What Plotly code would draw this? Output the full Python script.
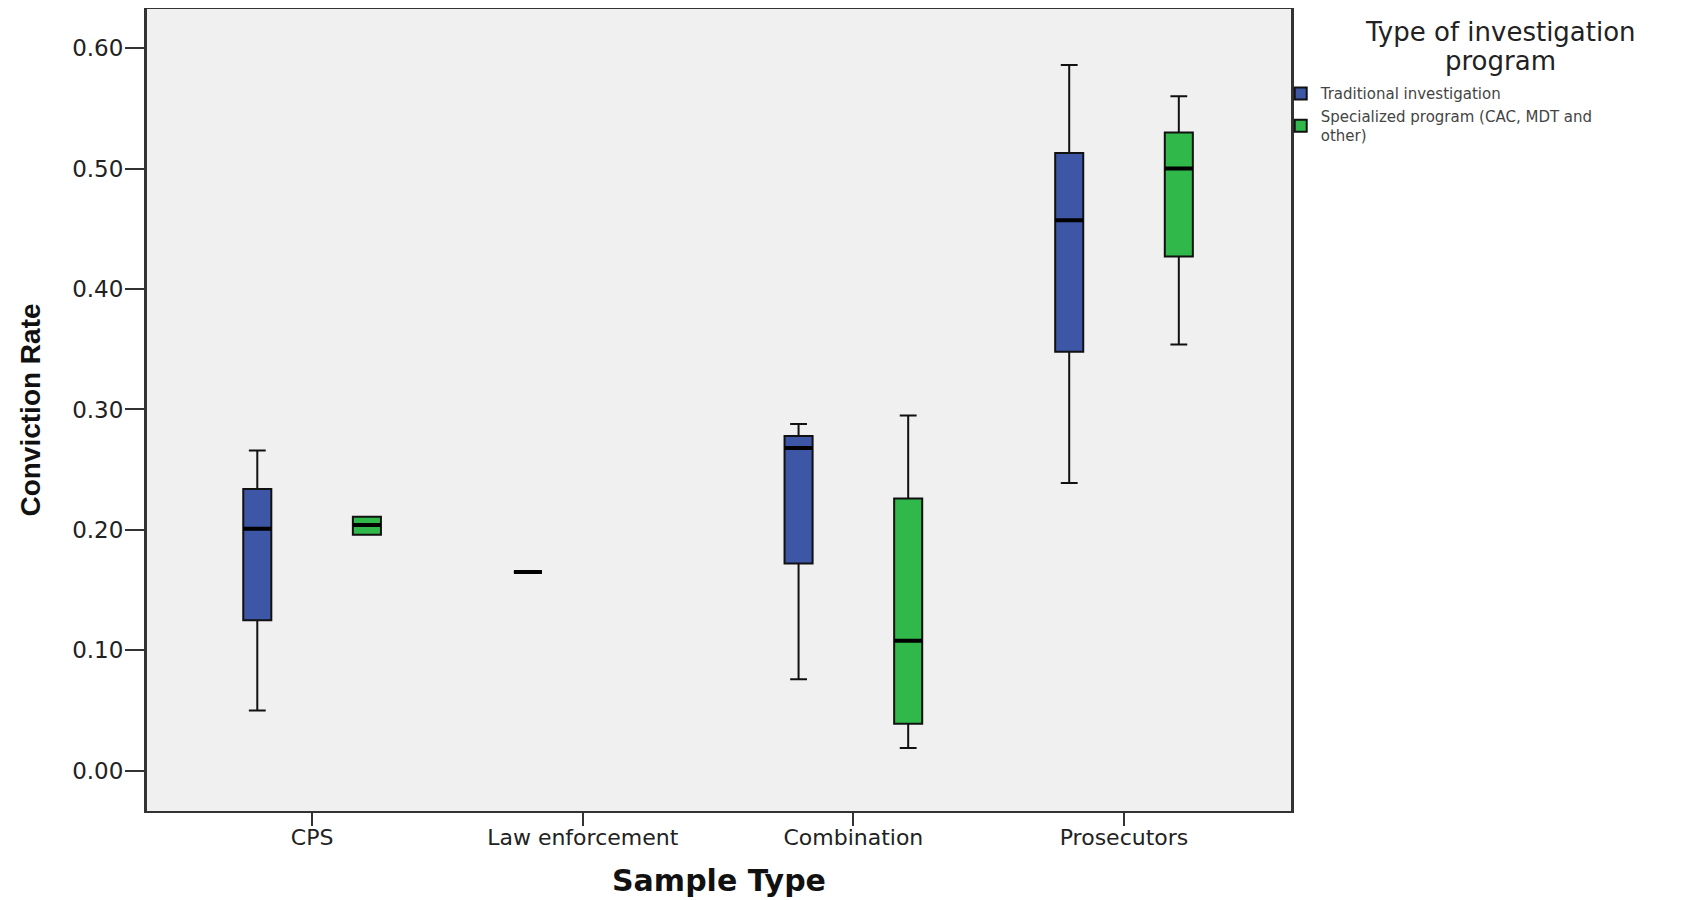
import plotly.graph_objects as go

categories = ["CPS", "Law enforcement", "Combination", "Prosecutors"]

trad_x = ["CPS", "Law enforcement", "Combination", "Prosecutors"]
trad_lower = [0.050, 0.165, 0.076, 0.239]
trad_q1 = [0.125, 0.165, 0.172, 0.348]
trad_median = [0.201, 0.165, 0.268, 0.457]
trad_q3 = [0.234, 0.165, 0.278, 0.513]
trad_upper = [0.266, 0.165, 0.288, 0.586]

spec_x = ["CPS", "Combination", "Prosecutors"]
spec_lower = [0.196, 0.019, 0.354]
spec_q1 = [0.196, 0.039, 0.427]
spec_median = [0.204, 0.108, 0.500]
spec_q3 = [0.211, 0.226, 0.530]
spec_upper = [0.211, 0.295, 0.560]

y_ticks = [0.0, 0.1, 0.2, 0.3, 0.4, 0.5, 0.6]

legend_title_lines = ["Type of investigation", "program"]

series = [
    dict(name="Traditional investigation", x=trad_x, lower=trad_lower, q1=trad_q1,
         med=trad_median, q3=trad_q3, upper=trad_upper, color="#3D56A6", grp="a"),
    dict(name="Specialized program (CAC, MDT and<br>other)", x=spec_x, lower=spec_lower,
         q1=spec_q1, med=spec_median, q3=spec_q3, upper=spec_upper, color="#30B84A", grp="b"),
]

fig = go.Figure()
for s in series:
    fig.add_trace(go.Box(
        name=s["name"], x=s["x"], lowerfence=s["lower"], q1=s["q1"], median=s["med"],
        q3=s["q3"], upperfence=s["upper"], fillcolor=s["color"],
        line=dict(color="#111111", width=2), whiskerwidth=0.6,
        offsetgroup=s["grp"], alignmentgroup="g", boxpoints=False,
    ))
for s in series:
    fig.add_trace(go.Box(
        name=s["name"], x=s["x"], lowerfence=s["med"], q1=s["med"], median=s["med"],
        q3=s["med"], upperfence=s["med"], fillcolor="rgba(0,0,0,0)",
        line=dict(color="#000000", width=4), whiskerwidth=0,
        offsetgroup=s["grp"], alignmentgroup="g", boxpoints=False,
        showlegend=False, hoverinfo="skip",
    ))

title_centers_y = [24, 53]  # figure px (centre of each title line)
annotations = [
    dict(text=line, xref="paper", yref="paper",
         x=(1500 - 147) / 1144, y=(803 - cy) / 802, xanchor="center", yanchor="middle",
         align="center", showarrow=False,
         font=dict(family="DejaVu Sans", size=26, color="#222222"))
    for line, cy in zip(legend_title_lines, title_centers_y)
]

fig.update_layout(
    width=1704, height=900,
    paper_bgcolor="white", plot_bgcolor="#F0F0F0",
    margin=dict(l=139, r=421, t=1, b=97, autoexpand=False),
    boxmode="group", boxgap=0.19, boxgroupgap=0.744,
    font=dict(family="DejaVu Sans", color="#222222"),
    legend=dict(
        x=0.991, xanchor="left", y=0.915, yanchor="top",
        font=dict(family="DejaVu Sans", size=15, color="#444444"),
        bgcolor="rgba(0,0,0,0)", tracegroupgap=0, itemwidth=30,
    ),
    annotations=annotations,
    xaxis=dict(
        type="category", categoryorder="array", categoryarray=categories,
        range=[-0.61, 3.617],
        showline=True, linecolor="#333333", linewidth=2, mirror=True,
        ticks="outside", ticklen=13, tickwidth=2, tickcolor="#333333",
        ticklabelstandoff=-7,
        tickfont=dict(family="DejaVu Sans", size=22, color="#222222"),
        showgrid=False, zeroline=False,
        title=dict(text="<b>Sample Type</b>", font=dict(family="DejaVu Sans", size=30, color="#111111"),
                   standoff=21),
    ),
    yaxis=dict(
        range=[-0.0334, 0.6325],
        tickvals=y_ticks, tickformat=".2f",
        showline=True, linecolor="#333333", linewidth=3, mirror=True,
        ticks="outside", ticklen=19, tickwidth=2, tickcolor="#333333",
        ticklabelstandoff=-3,
        tickfont=dict(family="DejaVu Sans", size=23, color="#222222"),
        showgrid=False, zeroline=False,
        title=dict(text="<b>Conviction Rate</b>", font=dict(family="Liberation Sans", size=28, color="#111111"),
                   standoff=24),
    ),
)

fig.write_html("out.html")
